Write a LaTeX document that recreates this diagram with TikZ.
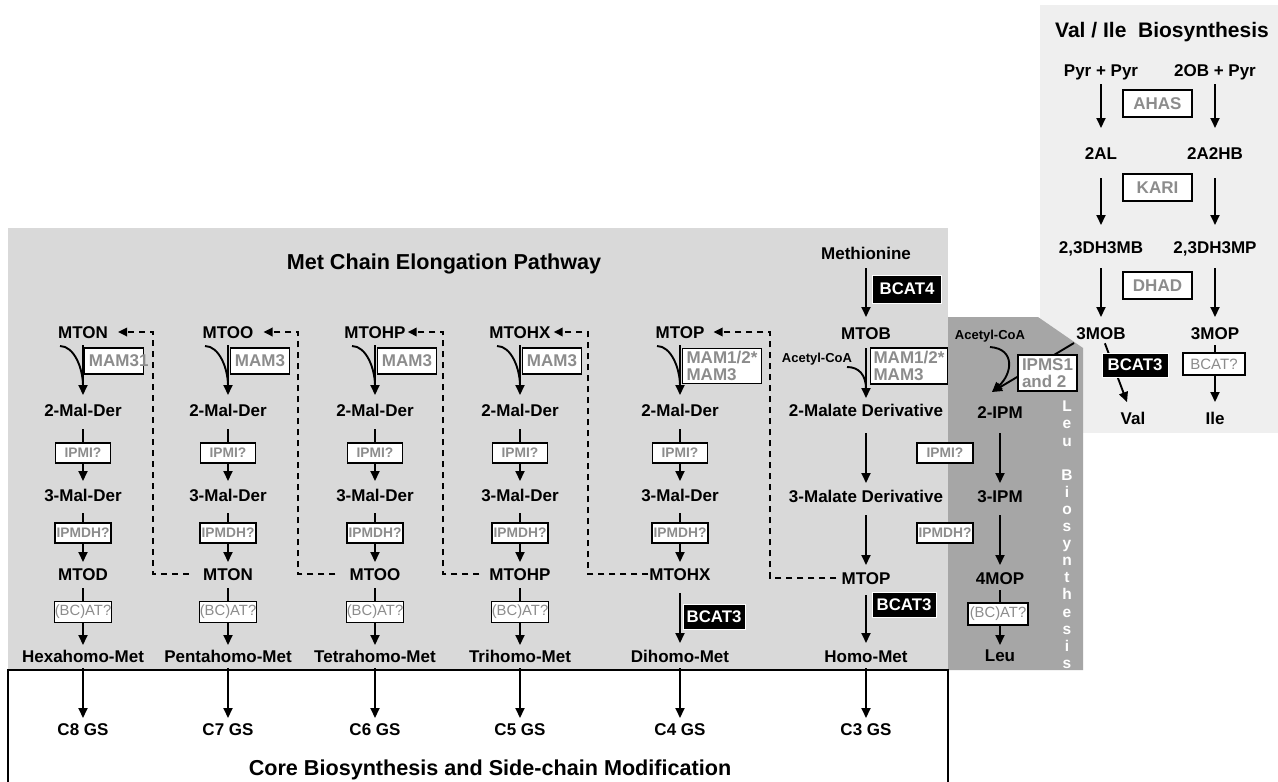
\documentclass[tikz,border=0pt]{standalone}
\usepackage{fontspec}
\setmainfont{Liberation Sans}
\usetikzlibrary{arrows.meta}
\definecolor{metgray}{HTML}{D9D9D9}
\definecolor{leugray}{HTML}{A6A6A6}
\definecolor{valgray}{HTML}{EFEFEF}
\definecolor{enzgray}{HTML}{8C8C8C}
\begin{document}
\begin{tikzpicture}[x=1pt,y=-1pt,
 lab/.style={font=\fontsize{17}{19}\selectfont\bfseries, inner sep=0pt, text height=12pt, text depth=0pt},
 smalllab/.style={font=\fontsize{13}{15}\selectfont\bfseries, inner sep=0pt, text height=9.5pt, text depth=0pt},
 enz/.style={draw=black, line width=1.4pt, fill=white, text=enzgray, inner sep=0pt, font=\fontsize{17}{17}\selectfont\bfseries},
 enzs/.style={enz, font=\fontsize{13.8}{15}\selectfont\bfseries, minimum width=55pt, minimum height=20pt},
 bc/.style={enz, font=\fontsize{14.8}{15}\selectfont, minimum width=53pt, minimum height=21pt},
 blk/.style={fill=black, draw=white, line width=0.8pt, text=white, inner sep=0pt, font=\fontsize{16.8}{18}\selectfont\bfseries},
 arr/.style={line width=1.9pt, -{Triangle[length=10pt,width=9pt]}},
 ar/.style 2 args={arr, shorten <=#1pt, shorten >=#2pt},
 ln/.style={line width=1.9pt},
 dsh/.style={line width=1.9pt, dash pattern=on 6pt off 5pt, -{Triangle[length=9pt,width=8.5pt]}},
 ttl/.style={font=\fontsize{21.6}{26}\selectfont\bfseries, inner sep=0pt, text height=15.5pt, text depth=0pt},
]
\useasboundingbox (0,0) rectangle (1278,782);
% regions
\fill[white] (0,0) rectangle (1278,782);
\fill[metgray] (8,228) rectangle (948,670);
\fill[valgray] (1040,5) rectangle (1278,433);
\fill[leugray] (948,317) -- (1038,317) -- (1083,348) -- (1083,670) -- (948,670) -- cycle;
\draw[line width=1.2pt] (8,782) -- (8,670) -- (948,670) -- (948,782);

% titles
\node[ttl] (mtitle) at (444,262) {Met Chain Elongation Pathway};
\node[ttl] (ctitle) at (490,768) {Core Biosynthesis and Side-chain Modification};
\node[font=\fontsize{21}{24}\selectfont\bfseries, inner sep=0pt, text height=15pt, text depth=0pt] (vtitle) at (1162,30) {Val / Ile\ \ Biosynthesis};
\node[font=\fontsize{15.5}{17.1}\selectfont\bfseries, text=white, align=center, inner sep=0pt, anchor=north] (leuv) at (1067,401)
 {L\\e\\u\\[17.1pt]B\\i\\o\\s\\y\\n\\t\\h\\e\\s\\i\\s};

% Met chain compounds
\node[lab] (t1) at (83,332) {MTON};
\node[lab] (t2) at (228,332) {MTOO};
\node[lab] (t3) at (375,332) {MTOHP};
\node[lab] (t4) at (520,332) {MTOHX};
\node[lab] (t5) at (680,332) {MTOP};
\node[lab] (meth) at (866,253) {Methionine};
\node[lab] (t6) at (866,333) {MTOB};
\node[lab] (m1) at (83,410) {2-Mal-Der};
\node[lab] (m2) at (228,410) {2-Mal-Der};
\node[lab] (m3) at (375,410) {2-Mal-Der};
\node[lab] (m4) at (520,410) {2-Mal-Der};
\node[lab] (m5) at (680,410) {2-Mal-Der};
\node[lab] (m6) at (866,410) {2-Malate Derivative};
\node[lab] (n1) at (83,495) {3-Mal-Der};
\node[lab] (n2) at (228,495) {3-Mal-Der};
\node[lab] (n3) at (375,495) {3-Mal-Der};
\node[lab] (n4) at (520,495) {3-Mal-Der};
\node[lab] (n5) at (680,495) {3-Mal-Der};
\node[lab] (n6) at (866,496) {3-Malate Derivative};
\node[lab] (b1) at (83,574) {MTOD};
\node[lab] (b2) at (228,574) {MTON};
\node[lab] (b3) at (375,574) {MTOO};
\node[lab] (b4) at (520,574) {MTOHP};
\node[lab] (b5) at (680,574) {MTOHX};
\node[lab] (b6) at (866,578) {MTOP};
\node[lab] (p1) at (83,656) {Hexahomo-Met};
\node[lab] (p2) at (228,656) {Pentahomo-Met};
\node[lab] (p3) at (375,656) {Tetrahomo-Met};
\node[lab] (p4) at (520,656) {Trihomo-Met};
\node[lab] (p5) at (680,656) {Dihomo-Met};
\node[lab] (p6) at (866,656) {Homo-Met};
\node[lab] (g1) at (83,729) {C8 GS};
\node[lab] (g2) at (228,729) {C7 GS};
\node[lab] (g3) at (375,729) {C6 GS};
\node[lab] (g4) at (520,729) {C5 GS};
\node[lab] (g5) at (680,729) {C4 GS};
\node[lab] (g6) at (866,729) {C3 GS};
\node[smalllab] (ac6) at (817,358) {Acetyl-CoA};

% Leu compounds
\node[smalllab] (acl) at (990,335) {Acetyl-CoA};
\node[lab] (i2) at (1000,412) {2-IPM};
\node[lab] (i3) at (1000,496) {3-IPM};
\node[lab] (mop4) at (1000,578) {4MOP};
\node[lab] (leu) at (1000,655) {Leu};

% Val / Ile compounds
\node[lab] (pyr) at (1101,70) {Pyr + Pyr};
\node[lab] (ob) at (1215,70) {2OB + Pyr};
\node[lab] (al) at (1101,153) {2AL};
\node[lab] (ahb) at (1215,153) {2A2HB};
\node[lab] (dmb) at (1101,247) {2,3DH3MB};
\node[lab] (dmp) at (1215,247) {2,3DH3MP};
\node[lab] (mob) at (1101,333) {3MOB};
\node[lab] (mop) at (1215,333) {3MOP};
\node[lab] (val) at (1133,418) {Val};
\node[lab] (ile) at (1215,418) {Ile};

% arrows Met chain, columns 1-5
\foreach \c in {1,...,5}{
  \draw[ar={13}{15}] (t\c.center) -- (m\c.center);
  \draw[ln] ([shift={(-23,14)}]t\c.center) .. controls +(14,0) and +(0,-18) .. ([shift={(0,54)}]t\c.center);
  \draw[ar={19}{14}] (m\c.center) -- (n\c.center);
  \draw[ar={18}{12}] (n\c.center) -- (b\c.center);
  \draw[ar={12}{11}] (p\c.center) -- (g\c.center);
}
\foreach \c in {1,...,4}{
  \draw[ar={14}{11}] (b\c.center) -- (p\c.center);
}
\draw[ar={19}{13}] (b5.center) -- (p5.center);
% column 6
\draw[ar={15}{16}] (meth.center) -- (t6.center);
\draw[ar={15}{12}] (t6.center) -- (m6.center);
\draw[ln] ([shift={(-19,34)}]t6.center) .. controls +(12,0) and +(0,-14) .. ([shift={(0,56)}]t6.center);
\draw[ar={23}{13}] (m6.center) -- (n6.center);
\draw[ar={19}{13}] (n6.center) -- (b6.center);
\draw[ar={17}{13}] (b6.center) -- (p6.center);
\draw[ar={12}{11}] (p6.center) -- (g6.center);

% dashed feedback
\coordinate (dv1) at (153,332);
\coordinate (dv2) at (298,332);
\coordinate (dv3) at (443,332);
\coordinate (dv4) at (588,332);
\coordinate (dv5) at (770,332);
\draw[dsh] ([xshift=-14pt]b2.west) -| (dv1) -- ([xshift=10pt]t1.east);
\draw[dsh] ([xshift=-14pt]b3.west) -| (dv2) -- ([xshift=10pt]t2.east);
\draw[dsh] ([xshift=-10pt]b4.west) -| (dv3) -- ([xshift=2pt]t3.east);
\draw[dsh] ([xshift=-1pt]b5.west) -| (dv4) -- ([xshift=3pt]t4.east);
\draw[dsh] ([xshift=-5pt]b6.west) -| (dv5) -- ([xshift=9pt]t5.east);

% Leu arrows
\draw[arr] ([shift={(0,12)}]acl.center) .. controls +(26,2) and +(20,-18) .. ([shift={(-8,-20)}]i2.center);
\draw[arr] ([shift={(-27,10)}]mob.center) -- ([shift={(-8,-20)}]i2.center);
\draw[ar={21}{13}] (i2.center) -- (i3.center);
\draw[ar={19}{13}] (i3.center) -- (mop4.center);
\draw[ar={12}{10}] (mop4.center) -- (leu.center);

% Val / Ile arrows
\draw[ar={14}{25}] (pyr.center) -- (al.center);
\draw[ar={14}{25}] (ob.center) -- (ahb.center);
\draw[ar={25}{22}] (al.center) -- (dmb.center);
\draw[ar={25}{22}] (ahb.center) -- (dmp.center);
\draw[ar={21}{16}] (dmb.center) -- (mob.center);
\draw[ar={21}{16}] (dmp.center) -- (mop.center);
\draw[ar={11}{17}] (mob.center) -- (val.center);
\draw[ar={12}{16}] (mop.center) -- (ile.center);

% enzyme boxes, Met chain
\node[enz, minimum width=59pt, minimum height=26pt] (mam1) at (114,361) {MAM3\rlap{1}};
\node[enz, minimum width=59pt, minimum height=26pt] (mam2) at (260,361) {MAM3};
\node[enz, minimum width=59pt, minimum height=26pt] (mam3) at (407,361) {MAM3};
\node[enz, minimum width=59pt, minimum height=26pt] (mam4) at (552,361) {MAM3};
\node[enz, minimum width=79pt, minimum height=35pt, align=left] (mam5) at (722,366) {MAM1/2*\\MAM3};
\node[enz, minimum width=77pt, minimum height=36pt, align=left] (mam6) at (909,366) {MAM1/2*\\MAM3};
\foreach \c/\x in {1/83,2/228,3/375,4/520,5/680}{
  \node[enzs] (ipmi\c) at (\x,453) {IPMI?};
  \node[enzs, minimum width=56pt] (ipmdh\c) at (\x,533) {IPMDH?};
}
\foreach \c/\x in {1/83,2/228,3/375,4/520}{
  \node[bc] (bc\c) at (\x,612) {(BC)AT?};
}
\node[blk, minimum width=62pt, minimum height=25pt] (bcat5) at (714,617) {BCAT3};
\node[blk, minimum width=64pt, minimum height=25pt] (bcat6) at (904,605) {BCAT3};
\node[blk, minimum width=69pt, minimum height=28pt] (bcat4) at (907,289) {BCAT4};

% enzyme boxes, Leu
\node[enzs, minimum width=56pt] (ipmil) at (945,453) {IPMI?};
\node[enzs, minimum width=56pt] (ipmdhl) at (945,533) {IPMDH?};
\node[bc, minimum width=60pt, minimum height=22pt] (bcl) at (998,614) {(BC)AT?};
\node[enz, minimum width=59pt, minimum height=36pt, align=left] (ipms) at (1047.5,373) {IPMS1\\and 2};

% enzyme boxes, Val / Ile
\node[enz, minimum width=69pt, minimum height=27pt] (ahas) at (1157.5,103.5) {AHAS};
\node[enz, minimum width=69pt, minimum height=27pt] (kari) at (1157.5,187.5) {KARI};
\node[enz, minimum width=69pt, minimum height=27pt] (dhad) at (1157.5,285.5) {DHAD};
\node[blk, minimum width=66pt, minimum height=24pt] (bcatv) at (1135,365) {BCAT3};
\node[bc, font=\fontsize{15}{16}\selectfont, minimum width=62pt, minimum height=22pt] (bcatq) at (1214,364) {BCAT?};
\end{tikzpicture}
\end{document}
